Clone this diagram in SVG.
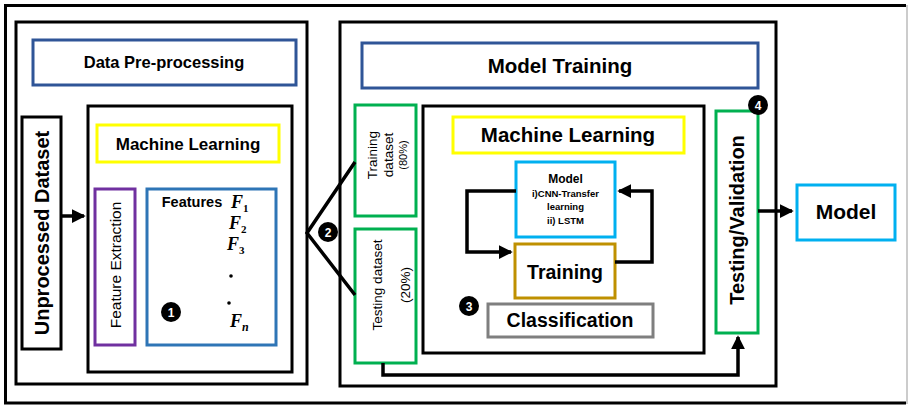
<svg xmlns="http://www.w3.org/2000/svg" width="908" height="407" viewBox="0 0 908 407">
<defs>
<style>
.bk{fill:#fff;stroke:#000;stroke-width:3}
.box{fill:#fff;stroke-width:3}
.t{font-family:"Liberation Sans",Arial,sans-serif;fill:#000;text-anchor:middle}
.b{font-weight:bold}
.f{font-family:"Liberation Serif","Times New Roman",serif;font-style:italic;font-weight:bold;fill:#000}
.sub{font-style:normal}
.c{fill:#000}
.cn{font-family:"Liberation Sans",Arial,sans-serif;font-weight:bold;font-size:12px;fill:#fff;text-anchor:middle}
.ln{fill:none;stroke:#000;stroke-width:3.5}
</style>
<marker id="ah" markerWidth="4" markerHeight="4" refX="3.5" refY="2" orient="auto" markerUnits="strokeWidth">
<path d="M0,0 L4,2 L0,4 Z" fill="#000"/>
</marker>
</defs>
<rect width="908" height="407" fill="#fff"/>
<g id="frame">
<path d="M906,5.5 H5.5 V403 H906" fill="none" stroke="#000" stroke-width="3"/>
<line x1="907" y1="5" x2="907" y2="404" stroke="#999" stroke-width="1"/>
</g>
<g id="preprocessing-panel">
<rect class="bk" x="16" y="22" width="291" height="362"/>
</g>
<g id="data-preprocessing">
<rect class="box" x="33" y="40" width="263" height="45" stroke="#2F5597"/>
<text class="t b" x="164" y="68" font-size="16.5">Data Pre-processing</text>
</g>
<g id="unprocessed-dataset">
<rect class="bk" x="22" y="117" width="39" height="232"/>
<text class="t b" font-size="20" transform="translate(49,233) rotate(-90)">Unprocessed Dataset</text>
</g>
<g id="ml-left-panel">
<rect class="bk" x="88" y="106" width="204" height="266"/>
</g>
<g id="ml-left">
<rect class="box" x="97" y="125" width="182" height="37" stroke="#FFFF00"/>
<text class="t b" x="188" y="150" font-size="17">Machine Learning</text>
</g>
<g id="feature-extraction">
<rect class="box" x="95" y="189" width="40" height="156" stroke="#7030A0"/>
<text class="t" font-size="15.5" transform="translate(121,265) rotate(-90)">Feature Extraction</text>
</g>
<g id="features">
<rect class="box" x="147" y="189" width="129" height="156" stroke="#2E75B6"/>
<text class="t b" x="192" y="207" font-size="14.5">Features</text>
<text class="f" x="231" y="208" font-size="18">F<tspan class="sub" font-size="11" dy="4">1</tspan></text>
<text class="f" x="229" y="229" font-size="18">F<tspan class="sub" font-size="11" dy="4">2</tspan></text>
<text class="f" x="227" y="250" font-size="18">F<tspan class="sub" font-size="11" dy="4">3</tspan></text>
<circle class="c" cx="231" cy="276" r="1.8"/>
<circle class="c" cx="229" cy="303" r="1.8"/>
<text class="f" x="230" y="327" font-size="18">F<tspan font-size="12" dy="4">n</tspan></text>
<circle class="c" cx="171" cy="312" r="10"/>
<text class="cn" x="171" y="316.5">1</text>
</g>
<g id="training-panel">
<rect class="bk" x="340" y="22" width="436" height="364"/>
</g>
<g id="model-training">
<rect class="box" x="362" y="43" width="396" height="45" stroke="#2F5597"/>
<text class="t b" x="560" y="73" font-size="20.5">Model Training</text>
</g>
<g id="training-dataset">
<rect class="box" x="355" y="105" width="61" height="111" stroke="#00B050"/>
<text class="t" font-size="13.5" transform="translate(377,155) rotate(-90)">Training</text>
<text class="t" font-size="13.5" transform="translate(393,155) rotate(-90)">dataset</text>
<text class="t" font-size="11" transform="translate(407,155) rotate(-90)">(80%)</text>
</g>
<g id="testing-dataset">
<rect class="box" x="355" y="229" width="61" height="134" stroke="#00B050"/>
<text class="t" font-size="13.5" transform="translate(382,285) rotate(-90)">Testing dataset</text>
<text class="t" font-size="13.5" transform="translate(410,285) rotate(-90)">(20%)</text>
</g>
<g id="ml-right-panel">
<rect class="bk" x="423" y="106" width="281" height="247"/>
</g>
<g id="ml-right">
<rect class="box" x="453" y="117" width="231" height="36" stroke="#FFFF00"/>
<text class="t b" x="568" y="142" font-size="20.5">Machine Learning</text>
</g>
<g id="model-inner">
<rect class="box" x="516" y="162" width="99" height="75" stroke="#00B0F0"/>
<text class="t b" x="565.5" y="183" font-size="12">Model</text>
<text class="t b" x="565.5" y="197" font-size="9.5">i)CNN-Transfer</text>
<text class="t b" x="565.5" y="210" font-size="9.5">learning</text>
<text class="t b" x="565.5" y="224" font-size="9.5">ii) LSTM</text>
</g>
<g id="training">
<rect class="box" x="515" y="244" width="100" height="54" stroke="#BF9000"/>
<text class="t b" x="565" y="279" font-size="19.5">Training</text>
</g>
<g id="classification">
<rect class="box" x="488" y="304" width="165" height="33" stroke="#7F7F7F"/>
<text class="t b" x="570" y="327" font-size="19.5">Classification</text>
<circle class="c" cx="469" cy="306" r="10"/>
<text class="cn" x="469" y="310.5">3</text>
</g>
<g id="testing-validation">
<rect class="box" x="716" y="111" width="42" height="222" stroke="#00B050"/>
<text class="t b" font-size="20" transform="translate(744,220) rotate(-90)">Testing/Validation</text>
<circle class="c" cx="758" cy="105" r="10"/>
<text class="cn" x="758" y="109.5">4</text>
</g>
<g id="model-output">
<rect class="box" x="797" y="185" width="98" height="55" stroke="#00B0F0"/>
<text class="t b" x="846" y="219" font-size="21">Model</text>
</g>
<g id="connectors">
<line class="ln" x1="61" y1="216" x2="84" y2="216" marker-end="url(#ah)"/>
<polyline class="ln" points="355,162 307,233 355,295"/>
<circle class="c" cx="328" cy="232" r="10"/>
<text class="cn" x="328" y="236.5">2</text>
<polyline class="ln" points="516,191 467,191 467,252 511,252" marker-end="url(#ah)"/>
<polyline class="ln" points="615,262 652,262 652,191 619,191" marker-end="url(#ah)"/>
<polyline class="ln" points="383,363 383,375 738,375 738,337" marker-end="url(#ah)"/>
<line class="ln" x1="758" y1="211" x2="792" y2="211" marker-end="url(#ah)"/>
</g>
</svg>
